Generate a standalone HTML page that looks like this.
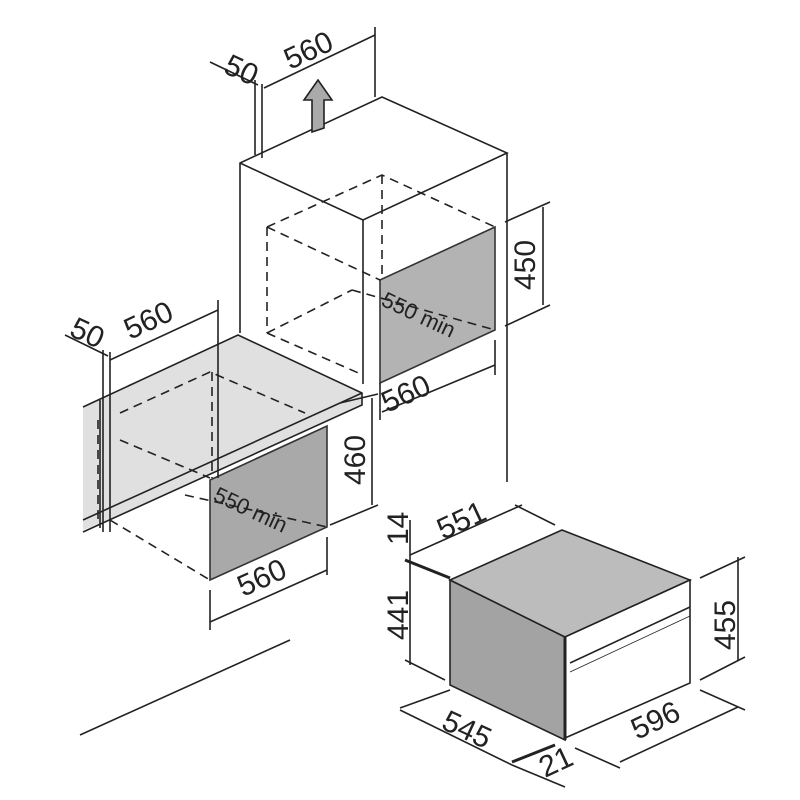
<!DOCTYPE html>
<html><head><style>body{margin:0;background:#fff}svg{display:block}text{font-family:"Liberation Sans",sans-serif;fill:#222}</style></head><body>
<svg width="800" height="800" viewBox="0 0 800 800" xmlns="http://www.w3.org/2000/svg">
<g stroke="#222" stroke-width="1.6" fill="none">
<polygon points="380,280 495,227 495,330 380,383" fill="#b3b3b3" stroke="#333"/>
<polyline points="240,333 240,163 382,97 507,153 363,220 240,163"/>
<line x1="363" y1="220" x2="363" y2="384"/>
<line x1="507" y1="153" x2="507" y2="482"/>
<g stroke-dasharray="9,6">
<polyline points="267,227 382,175 495,227"/>
<line x1="382" y1="175" x2="382" y2="280"/>
<line x1="267" y1="227" x2="380" y2="280"/>
<line x1="267" y1="227" x2="267" y2="333"/>
<line x1="267" y1="333" x2="363" y2="375"/>
<line x1="267" y1="333" x2="352" y2="290"/>
<line x1="352" y1="290" x2="495" y2="330"/>
</g>
<line x1="255" y1="80" x2="255" y2="155"/><line x1="262" y1="84" x2="262" y2="158"/>
<line x1="375" y1="27" x2="375" y2="97"/>
<line x1="264" y1="88" x2="375" y2="35"/>
<line x1="210" y1="62" x2="258" y2="85"/>
<path d="M312,132 L312,100 L304,100 L318,80 L332,100 L324,100 L324,128 Z" fill="#aaa"/>
<line x1="505" y1="222" x2="550" y2="202"/><line x1="505" y1="326" x2="550" y2="305"/>
<line x1="543" y1="207" x2="543" y2="305"/>
<line x1="380" y1="383" x2="380" y2="420"/><line x1="495" y1="340" x2="495" y2="375"/>
<line x1="382" y1="412" x2="495" y2="365"/>

<polygon points="83,407 238,335 362,393 362,405 215,472 110,520 83,530" fill="#e0e0e0" stroke="none"/>
<polyline points="83,407 238,335 362,393 362,405 83,532"/>
<line x1="100" y1="400" x2="100" y2="528"/>
<line x1="362" y1="393" x2="83" y2="520"/>
<polygon points="210,480 327,426 327,527 210,580" fill="#a9a9a9" stroke="#333"/>
<g stroke-dasharray="9,6">
<polyline points="120,413 210,372 305,413"/>
<line x1="212" y1="372" x2="212" y2="478"/>
<line x1="120" y1="440" x2="210" y2="478"/>
<line x1="110" y1="520" x2="210" y2="580"/>
<line x1="185" y1="495" x2="327" y2="527"/>
<line x1="98" y1="420" x2="98" y2="525"/>
</g>
<line x1="103" y1="350" x2="103" y2="532"/><line x1="110" y1="352" x2="110" y2="532"/>
<line x1="218" y1="300" x2="218" y2="478"/>
<line x1="110" y1="360" x2="218" y2="310"/>
<line x1="65" y1="335" x2="108" y2="356"/>
<line x1="340" y1="403" x2="378" y2="394"/><line x1="330" y1="525" x2="378" y2="505"/>
<line x1="372" y1="398" x2="372" y2="505"/>
<line x1="210" y1="590" x2="210" y2="630"/><line x1="327" y1="537" x2="327" y2="575"/>
<line x1="210" y1="622" x2="327" y2="570"/>
<line x1="80" y1="735" x2="290" y2="640"/>

<polygon points="450,580 565,637 565,740 450,685" fill="#a3a3a3"/>
<polygon points="450,580 562,530 690,580 565,637" fill="#bcbcbc"/>
<polygon points="565,637 690,580 690,683 565,738" fill="#fff"/>
<line x1="570" y1="663" x2="690" y2="607"/>
<line x1="570" y1="672" x2="690" y2="616" stroke-width="0.8"/>
<line x1="565" y1="637" x2="565" y2="740" stroke-width="3"/>
<line x1="410" y1="520" x2="410" y2="665"/>
<line x1="405" y1="560" x2="450" y2="578" stroke-width="3"/>
<line x1="405" y1="660" x2="445" y2="680"/>
<line x1="410" y1="555" x2="522" y2="505"/>
<line x1="515" y1="505" x2="555" y2="525"/>
<line x1="700" y1="578" x2="745" y2="557"/><line x1="700" y1="680" x2="745" y2="657"/>
<line x1="738" y1="557" x2="738" y2="660"/>
<line x1="575" y1="748" x2="620" y2="768"/><line x1="700" y1="690" x2="745" y2="710"/>
<line x1="620" y1="762" x2="738" y2="707"/>
<line x1="400" y1="708" x2="450" y2="690"/>
<line x1="400" y1="710" x2="512" y2="765"/>
<line x1="512" y1="762" x2="555" y2="745" stroke-width="3"/>
<line x1="512" y1="765" x2="565" y2="787"/>
</g>
<g font-size="30">
<text transform="translate(222,72) rotate(25)">50</text>
<text transform="translate(290,70) rotate(-25)">560</text>
<text transform="translate(535,290) rotate(-90)">450</text>
<text transform="translate(387,413) rotate(-24)">560</text>
<text transform="translate(68,335) rotate(25)">50</text>
<text transform="translate(130,340) rotate(-25)">560</text>
<text transform="translate(365,485) rotate(-90)">460</text>
<text transform="translate(243,597) rotate(-24)">560</text>
<text transform="translate(408,545) rotate(-90)">14</text>
<text transform="translate(408,640) rotate(-90)">441</text>
<text transform="translate(443,540) rotate(-25)">551</text>
<text transform="translate(735,650) rotate(-90)">455</text>
<text transform="translate(637,740) rotate(-25)">596</text>
<text transform="translate(440,728) rotate(25)">545</text>
<text transform="translate(545,778) rotate(-25)">21</text>
</g>
<g font-size="22">
<text transform="translate(380,305) rotate(25)">550 min</text>
<text transform="translate(212,500) rotate(25)">550 min</text>
</g>
</svg>
</body></html>
